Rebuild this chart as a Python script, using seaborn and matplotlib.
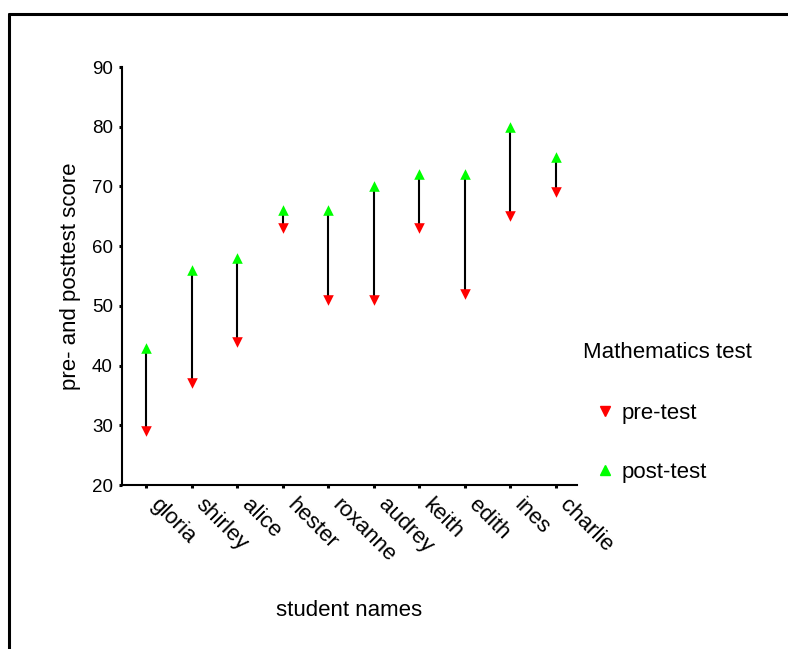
import matplotlib
matplotlib.use('Agg')
import matplotlib.pyplot as plt
import seaborn as sns
import pandas as pd
from matplotlib.lines import Line2D

# Data
students = ['gloria', 'shirley', 'alice', 'hester', 'roxanne',
            'audrey', 'keith', 'edith', 'ines', 'charlie']
pre_test = [29, 37, 44, 63, 51, 51, 63, 52, 65, 69]
post_test = [43, 56, 58, 66, 66, 70, 72, 72, 80, 75]
y_ticks = [20, 30, 40, 50, 60, 70, 80, 90]

df = pd.DataFrame({'student': students, 'pre': pre_test, 'post': post_test})
df['pos'] = range(len(df))

sns.set_style('ticks')
plt.rcParams['font.family'] = ['Liberation Sans', 'DejaVu Sans']
plt.rcParams['text.color'] = 'black'
plt.rcParams['axes.labelcolor'] = 'black'
plt.rcParams['xtick.color'] = 'black'
plt.rcParams['ytick.color'] = 'black'

fig = plt.figure(figsize=(7.88, 6.49), dpi=100)
ax = fig.add_axes([122 / 788, 1 - 485 / 649, 455 / 788, 418 / 649])

# connecting lines from pre to post score
ax.vlines(df['pos'], df['pre'], df['post'], color='black', linewidth=1.5, zorder=2)

sns.scatterplot(x='pos', y='pre', data=df, marker='v', color='#ff0000',
                s=58, linewidth=0, ax=ax, zorder=3)
sns.scatterplot(x='pos', y='post', data=df, marker='^', color='#00ff00',
                s=58, linewidth=0, ax=ax, zorder=3)

ax.set_xlim(-0.53, 9.47)
ax.set_ylim(20, 90)
ax.set_yticks(y_ticks)
ax.set_xticks(df['pos'])
ax.set_xticklabels(students, rotation=-45, ha='left', va='bottom',
                   rotation_mode='anchor', fontsize=16)
ax.tick_params(axis='x', pad=15)
ax.tick_params(axis='y', labelsize=13.5, pad=4)
ax.tick_params(length=2.5, width=2.2, color='black')

for side in ['top', 'right']:
    ax.spines[side].set_visible(False)
for side in ['left', 'bottom']:
    ax.spines[side].set_linewidth(1.5)
    ax.spines[side].set_color('black')

ax.set_xlabel('student names', fontsize=16)
ax.set_ylabel('pre- and posttest score', fontsize=16)
ax.xaxis.set_label_coords(0.5, -0.275)
ax.yaxis.set_label_coords(-0.09, 0.5)

# legend: title as separate text, entries as a legend
fig.text(583 / 788, 1 - 352 / 649, 'Mathematics test', fontsize=16,
         ha='left', va='center')
handles = [
    Line2D([], [], linestyle='none', marker='v', color='#ff0000', markersize=7.5),
    Line2D([], [], linestyle='none', marker='^', color='#00ff00', markersize=7.5),
]
ax.legend(handles, ['pre-test', 'post-test'],
          loc='center left', bbox_to_anchor=(594 / 788, 1 - 443 / 649),
          bbox_transform=fig.transFigure, frameon=False, fontsize=16,
          labelspacing=1.7, handlelength=1.0, handletextpad=0.25,
          borderpad=0, borderaxespad=0)

# outer frame lines (top and left)
fig.add_artist(Line2D([8.5 / 788, 1], [1 - 14 / 649, 1 - 14 / 649],
                      transform=fig.transFigure, color='black', linewidth=2.2))
fig.add_artist(Line2D([8.5 / 788, 8.5 / 788], [0, 1 - 14 / 649],
                      transform=fig.transFigure, color='black', linewidth=2.2))

fig.savefig('out.png', dpi=100)
